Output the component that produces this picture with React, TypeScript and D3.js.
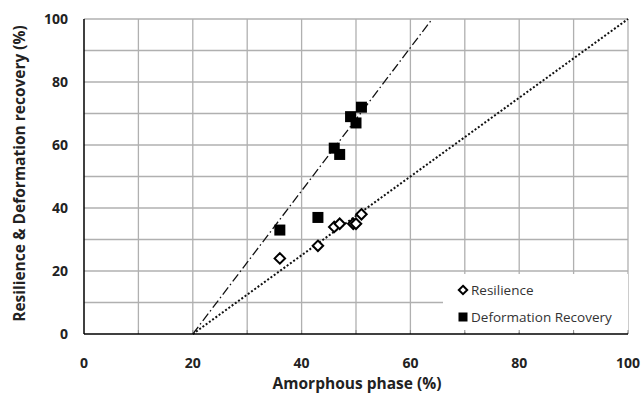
import React from "react";
import * as d3 from "d3";

const resX = [36, 43, 46, 47, 49.5, 50, 51];
const resY = [24, 28, 34, 35, 35, 35, 38];
const defX = [36, 43, 46, 47, 49, 50, 51];
const defY = [33, 37, 59, 57, 69, 67, 72];
const fitRes = [[20, 0], [100, 100]];
const fitDef = [[20, 0], [64, 100]];
const xTicks = [0, 20, 40, 60, 80, 100];
const yTicks = [0, 20, 40, 60, 80, 100];
const gridVals = [10, 20, 30, 40, 50, 60, 70, 80, 90, 100];

export default function App() {
  const W = 642, H = 396;
  const x = d3.scaleLinear().domain([0, 100]).range([84, 628]);
  const y = d3.scaleLinear().domain([0, 100]).range([334, 19]);
  const line = d3.line<number[]>().x(d => x(d[0])).y(d => y(d[1]));
  const font = "'Open Sans', 'Liberation Sans', sans-serif";
  const legX = 443, legY = 274, legW = 185, legH = 58;
  return (
    <svg width={W} height={H} style={{ position: "absolute", left: 0, top: 0, background: "#fff" }} fontFamily={font}>
      {gridVals.map(v => (
        <line key={"gy" + v} x1={x(0)} x2={x(100)} y1={y(v)} y2={y(v)} stroke="#b0b0b0" strokeWidth={1.3} />
      ))}
      {gridVals.map(v => (
        <line key={"gx" + v} x1={x(v)} x2={x(v)} y1={y(0)} y2={y(100)} stroke="#b0b0b0" strokeWidth={1.3} />
      ))}
      <path d={line(fitDef as any) || ""} fill="none" stroke="#111" strokeWidth={1.3} strokeDasharray="9,3,1.5,3" />
      <path d={line(fitRes as any) || ""} fill="none" stroke="#111" strokeWidth={2} strokeDasharray="2,2" />
      {defX.map((v, i) => (
        <rect key={"d" + i} x={x(v) - 5.5} y={y(defY[i]) - 5.5} width={11} height={11} fill="#000" />
      ))}
      {resX.map((v, i) => (
        <path key={"r" + i} d={d3.symbol(d3.symbolDiamond2, 70)() || ""} transform={`translate(${x(v)},${y(resY[i])})`} fill="#fff" stroke="#000" strokeWidth={2} />
      ))}
      <rect x={legX} y={legY} width={legW} height={legH} fill="#fff" />
      {gridVals.map(v => (
        <line key={"t" + v} x1={x(v)} x2={x(v)} y1={y(0)} y2={y(0) - 4} stroke="#888" strokeWidth={1} />
      ))}
      <line x1={x(0)} x2={x(0)} y1={y(0)} y2={y(100)} stroke="#000" strokeWidth={1.5} />
      <line x1={x(0)} x2={x(100)} y1={y(0)} y2={y(0)} stroke="#000" strokeWidth={1.5} />
      <path d={d3.symbol(d3.symbolDiamond2, 45)() || ""} transform={`translate(${legX + 20},${legY + 16})`} fill="#fff" stroke="#000" strokeWidth={2} />
      <text x={legX + 28} y={legY + 20.5} fontSize={13.5} fill="#333">Resilience</text>
      <rect x={legX + 15.5} y={legY + 38.5} width={9} height={9} fill="#000" />
      <text x={legX + 28} y={legY + 47.5} fontSize={13.5} fill="#333">Deformation Recovery</text>
      {yTicks.map(v => (
        <text key={"yl" + v} x={68} y={y(v) + 5} textAnchor="end" fontSize={14} fontWeight="bold" fill="#222">{v}</text>
      ))}
      {xTicks.map(v => (
        <text key={"xl" + v} x={x(v)} y={368} textAnchor="middle" fontSize={14} fontWeight="bold" fill="#222">{v}</text>
      ))}
      <text x={357} y={389} textAnchor="middle" fontSize={15.5} fontWeight="bold" fill="#222">Amorphous phase  (%)</text>
      <text transform={`translate(25,${173.5}) rotate(-90)`} textAnchor="middle" fontSize={15.5} fontWeight="bold" fill="#222">Resilience &amp; Deformation recovery (%)</text>
    </svg>
  );
}
